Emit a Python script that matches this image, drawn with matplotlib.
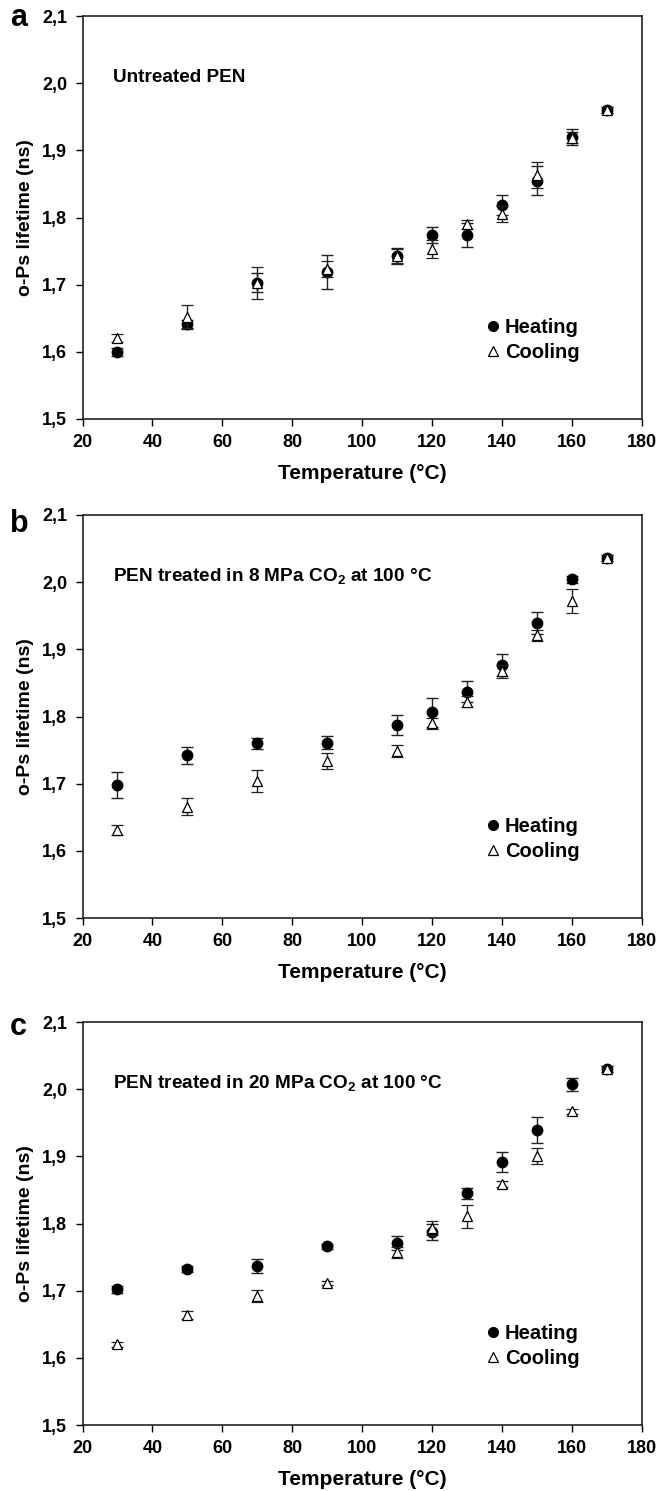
import matplotlib
matplotlib.use("Agg")
import matplotlib.pyplot as plt
from matplotlib.ticker import FuncFormatter
from matplotlib.lines import Line2D

plt.rcParams['font.family'] = ['Liberation Sans', 'DejaVu Sans']
plt.rcParams['font.weight'] = 'bold'
plt.rcParams['mathtext.fontset'] = 'custom'
plt.rcParams['mathtext.rm'] = 'Liberation Sans:bold'
plt.rcParams['mathtext.bf'] = 'Liberation Sans:bold'

# temperatures (°C)
temps = [30, 50, 70, 90, 110, 120, 130, 140, 150, 160, 170]

# panel a - untreated PEN
a_heat = [1.600, 1.641, 1.703, 1.719, 1.743, 1.774, 1.774, 1.818, 1.855, 1.920, 1.960]
a_heat_err = [0.006, 0.007, 0.014, 0.025, 0.012, 0.012, 0.018, 0.015, 0.022, 0.012, 0.005]
a_cool = [1.621, 1.652, 1.702, 1.723, 1.743, 1.753, 1.790, 1.805, 1.863, 1.919, 1.960]
a_cool_err = [0.006, 0.017, 0.024, 0.012, 0.010, 0.014, 0.007, 0.012, 0.019, 0.008, 0.005]

# panel b - 8 MPa CO2
b_heat = [1.698, 1.742, 1.760, 1.761, 1.787, 1.806, 1.837, 1.877, 1.939, 2.004, 2.036]
b_heat_err = [0.020, 0.012, 0.008, 0.010, 0.015, 0.021, 0.016, 0.016, 0.016, 0.005, 0.004]
b_cool = [1.631, 1.666, 1.704, 1.734, 1.749, 1.790, 1.822, 1.867, 1.921, 1.972, 2.036]
b_cool_err = [0.007, 0.013, 0.016, 0.012, 0.009, 0.008, 0.008, 0.010, 0.008, 0.018, 0.004]

# panel c - 20 MPa CO2
c_heat = [1.702, 1.732, 1.737, 1.766, 1.771, 1.788, 1.845, 1.891, 1.939, 2.007, 2.030]
c_heat_err = [0.005, 0.004, 0.010, 0.004, 0.010, 0.012, 0.008, 0.015, 0.019, 0.010, 0.004]
c_cool = [1.620, 1.664, 1.692, 1.711, 1.757, 1.793, 1.811, 1.859, 1.901, 1.967, 2.030]
c_cool_err = [0.004, 0.006, 0.009, 0.003, 0.008, 0.010, 0.017, 0.004, 0.012, 0.004, 0.004]

panel_letters = ['a', 'b', 'c']
panel_titles = ['Untreated PEN',
                'PEN treated in 8 MPa CO$_2$ at 100 °C',
                'PEN treated in 20 MPa CO$_2$ at 100 °C']

fig = plt.figure(figsize=(6.6, 14.91), dpi=100)

# axes boxes in pixels (top, bottom)
boxes = [(16, 419), (515, 918), (1022, 1425)]
left_px, right_px = 82.5, 642
W, H = 660.0, 1491.0

data = [(a_heat, a_heat_err, a_cool, a_cool_err),
        (b_heat, b_heat_err, b_cool, b_cool_err),
        (c_heat, c_heat_err, c_cool, c_cool_err)]

comma = FuncFormatter(lambda v, p: ('%.1f' % v).replace('.', ','))

leg_handles = [Line2D([], [], ls='none', marker='o', color='black', ms=7),
               Line2D([], [], ls='none', marker='^', mfc='white', mec='black', mew=0.9, ms=6.5)]

for i, (top, bot) in enumerate(boxes):
    ax = fig.add_axes([left_px / W, 1 - bot / H, (right_px - left_px) / W, (bot - top) / H])
    heat, heat_err, cool, cool_err = data[i]

    ax.errorbar(temps, heat, yerr=heat_err, fmt='o', color='black', ms=7.5,
                ecolor='#222222', elinewidth=1, capsize=4.5, capthick=1, zorder=3)
    ax.errorbar(temps, cool, yerr=cool_err, fmt='^', mfc='white', mec='black', mew=0.9, ms=7,
                ecolor='#222222', elinewidth=1, capsize=4.5, capthick=1, zorder=4)

    ax.set_xlim(20, 180)
    ax.set_ylim(1.5, 2.1)
    ax.set_xticks(range(20, 181, 20))
    ax.set_yticks([1.5, 1.6, 1.7, 1.8, 1.9, 2.0, 2.1])
    ax.yaxis.set_major_formatter(comma)
    ax.tick_params(direction='out', length=5, width=1, labelsize=13, pad=6)
    for lab in ax.get_xticklabels() + ax.get_yticklabels():
        lab.set_fontweight('bold')
    for s in ax.spines.values():
        s.set_linewidth(1.2)
        s.set_color('#222222')

    ax.set_xlabel('Temperature (°C)', fontsize=15, fontweight='bold', labelpad=9)
    ax.set_ylabel('o-Ps lifetime (ns)', fontsize=14, fontweight='bold', labelpad=6)

    ax.text(28.7, 2.008, panel_titles[i], fontsize=13.7, fontweight='bold', va='center', ha='left')

    ax.legend(leg_handles, ['Heating', 'Cooling'], loc='upper left',
              bbox_to_anchor=(134.5, 1.65), bbox_transform=ax.transData,
              frameon=False, fontsize=14.5, handletextpad=0.1, labelspacing=0.3,
              borderpad=0, handlelength=1.0, borderaxespad=0)

    fig.text(10 / W, 1 - [26, 532, 1035][i] / H, panel_letters[i], fontsize=22,
             fontweight='bold', va='baseline', ha='left')

fig.savefig('out.png', dpi=100)
